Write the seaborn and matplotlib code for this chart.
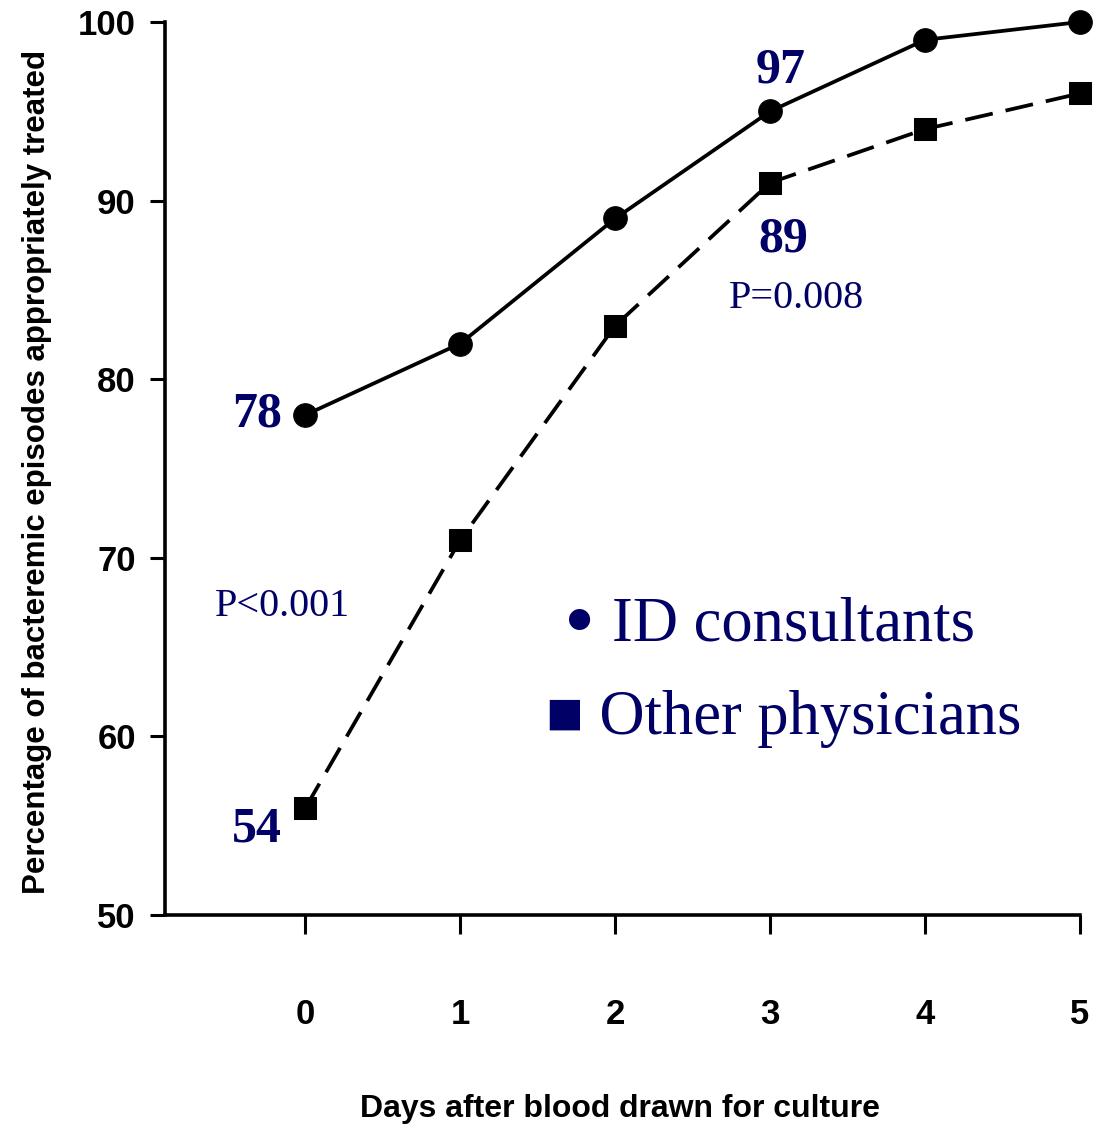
import matplotlib
matplotlib.use("Agg")
import matplotlib.pyplot as plt
import seaborn as sns
import pandas as pd

# data
days = [0, 1, 2, 3, 4, 5]
id_consultants = [78, 82, 89, 95, 99, 100]
other_physicians = [56, 71, 83, 91, 94, 96]
y_ticks = [50, 60, 70, 80, 90, 100]

navy = "#000066"

sns.set_style("ticks")
plt.rcParams['font.family'] = ['Liberation Sans', 'DejaVu Sans']
plt.rcParams['text.color'] = 'black'
plt.rcParams['axes.labelcolor'] = 'black'
plt.rcParams['xtick.color'] = 'black'
plt.rcParams['ytick.color'] = 'black'

fig = plt.figure(figsize=(10.98, 11.27), dpi=100)
ax = fig.add_axes([0.1503, 0.188, 0.8333, 0.7925])

df_id = pd.DataFrame({'day': days, 'pct': id_consultants})
df_other = pd.DataFrame({'day': days, 'pct': other_physicians})

sns.lineplot(data=df_id, x='day', y='pct', ax=ax, color='black', lw=2.7,
             marker='o', markersize=17, markeredgecolor='black', clip_on=False)
sns.lineplot(data=df_other, x='day', y='pct', ax=ax, color='black', lw=2.7,
             marker='s', markersize=16, markeredgecolor='black', clip_on=False,
             dashes=False)
ax.lines[-1].set_dashes([7.5, 3.5])

ax.set_xlim(-0.906, 5)
ax.set_ylim(50, 100)
ax.set_xticks(days)
ax.set_yticks(y_ticks)

for side in ['top', 'right']:
    ax.spines[side].set_visible(False)
for side in ['left', 'bottom']:
    ax.spines[side].set_linewidth(2.6)
    ax.spines[side].set_color('black')

ax.tick_params(axis='y', length=11, width=2.2, pad=10, labelsize=25)
ax.tick_params(axis='x', length=14, width=2.2, pad=46, labelsize=25)
for lab in ax.get_xticklabels() + ax.get_yticklabels():
    lab.set_fontweight('bold')

ax.set_xlabel('Days after blood drawn for culture', fontsize=23, fontweight='bold')
ax.set_ylabel('Percentage of bacteremic episodes appropriately treated', fontsize=22.5, fontweight='bold')
ax.xaxis.set_label_coords(0.497, -0.2)
ax.yaxis.set_label_coords(-0.124, 0.496)

serif = ['Liberation Serif', 'DejaVu Serif']

# value labels
ax.text(-0.15, 78, '78', ha='right', va='center', fontsize=36, fontweight='bold', color=navy, family=serif)
ax.text(-0.15, 54.8, '54', ha='right', va='center', fontsize=36, fontweight='bold', color=navy, family=serif)
ax.text(3.07, 97.3, '97', ha='center', va='center', fontsize=36, fontweight='bold', color=navy, family=serif)
ax.text(3.085, 87.8, '89', ha='center', va='center', fontsize=36, fontweight='bold', color=navy, family=serif)

# p-values
ax.text(-0.15, 67.3, 'P<0.001', ha='center', va='center', fontsize=29, color=navy, family=serif)
ax.text(3.17, 84.5, 'P=0.008', ha='center', va='center', fontsize=29, color=navy, family=serif)

# legend written as text
ax.text(1.67, 66.1, '\u2022', ha='left', va='center', fontsize=64, color=navy, family=serif)
ax.text(1.98, 66.2, 'ID consultants', ha='left', va='center', fontsize=45, color=navy, family=serif)
ax.text(1.55, 61.0, '\u25a0 Other physicians', ha='left', va='center', fontsize=45, color=navy, family=serif)

fig.savefig('out.png', dpi=100)
